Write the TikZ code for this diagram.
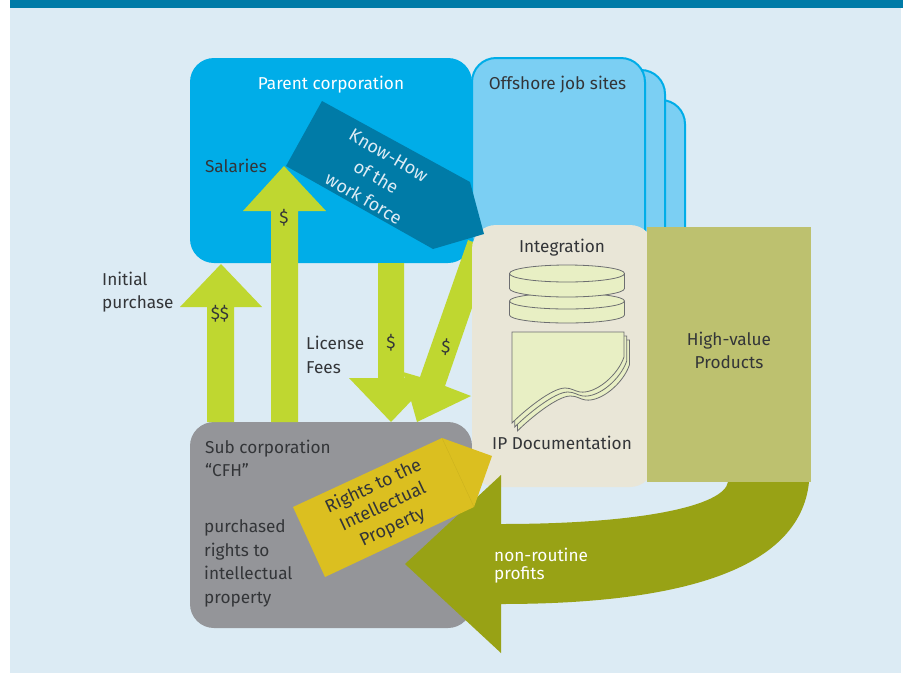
\documentclass[tikz,border=0pt]{standalone}
\usepackage{fontspec}
\setmainfont{Fira Sans}
\usetikzlibrary{positioning}
\definecolor{barBlue}{HTML}{007BA7}
\definecolor{paleBlue}{HTML}{DCEBF4}
\definecolor{parentBlue}{HTML}{00ADE8}
\definecolor{siteBlue}{HTML}{7BCFF3}
\definecolor{limeArrow}{HTML}{BFD730}
\definecolor{creamBox}{HTML}{E9E6D7}
\definecolor{oliveBox}{HTML}{BDC16F}
\definecolor{oliveArrow}{HTML}{98A215}
\definecolor{greyBox}{HTML}{949599}
\definecolor{goldArrow}{HTML}{DBBF20}
\definecolor{paleGreen}{HTML}{E8EFC4}
\definecolor{inkLine}{HTML}{6D6E71}
\definecolor{inkText}{HTML}{333538}

\begin{document}
\begin{tikzpicture}[
    x=1pt,y=-1pt,
    box/.style={%
      rectangle,
      rounded corners=24pt,
      inner sep=0pt,
    },
    lbl/.style={%
      inner sep=0pt,
      align=left,
      text=inkText,
      font=\fontsize{17.2}{23.5}\selectfont,
    },
    lblWhite/.style={%
      lbl,
      text=white,
    },
    paper/.style={%
      draw=inkLine,
      fill=paleGreen,
      line width=0.8pt,
    },
  ]

    \useasboundingbox (0,0) rectangle (903,673);
    \fill [paleBlue] (10,8) rectangle (901,673);
    \fill [barBlue] (10,0) rectangle (903,8);

    \node [box,fill=parentBlue,minimum width=282pt,minimum height=205pt] (A) at (331,160.5) {};
    \node [box,fill=siteBlue,draw=parentBlue,line width=2pt,minimum width=90pt,minimum height=170pt] (S3) at (640,185) {};
    \node [box,fill=siteBlue,draw=parentBlue,line width=2pt,minimum width=120pt,minimum height=190pt] (S2) at (605,165) {};
    \node [box,fill=siteBlue,draw=parentBlue,line width=2pt,minimum width=173pt,minimum height=200pt] (S1) at (558.5,158) {};
    \node [box,fill=greyBox,minimum width=282pt,minimum height=206pt] (B) at (331,525) {};

    % money arrows
    \fill [limeArrow] (207,422) -- (207,307) -- (180,307) -- (221,264) -- (262,307) -- (234,307) -- (234,422) -- cycle;
    \fill [limeArrow] (271,422) -- (271,211) -- (243,211) -- (284,166) -- (326,211) -- (298,211) -- (298,422) -- cycle;
    \fill [limeArrow] (378,263) -- (378,378) -- (349,378) -- (391,422) -- (433,378) -- (404,378) -- (404,263) -- cycle;
    \fill [limeArrow] (468,240) -- (420,377) -- (403,372) -- (417,422) -- (471,396) -- (445,386) -- (492,250) -- cycle;

    \node [box,fill=creamBox,minimum width=182pt,minimum height=262pt] (C) at (563,356) {};
    \node [fill=oliveBox,inner sep=0pt,minimum width=164pt,minimum height=255pt] (D) at (729,354.5) {};

    % disks
    \path [paper] (509.5,301) -- (509.5,315) arc [start angle=180,end angle=0,x radius=57.5,y radius=8] -- (624.5,301) arc [start angle=0,end angle=-180,x radius=57.5,y radius=8] -- cycle;
    \path [draw=inkLine,line width=0.8pt] (509.5,301) arc [start angle=180,end angle=0,x radius=57.5,y radius=8];
    \path [paper] (509.5,273.5) -- (509.5,288.5) arc [start angle=180,end angle=0,x radius=57.5,y radius=8.5] -- (624.5,273.5) arc [start angle=0,end angle=-180,x radius=57.5,y radius=8.5] -- cycle;
    \path [draw=inkLine,line width=0.8pt] (509.5,273.5) arc [start angle=180,end angle=0,x radius=57.5,y radius=8.5];

    % document pages
    \foreach \d in {2,1,0} {
      \path [paper,shift={(2.7*\d,4*\d)}] (512,332) -- (624,332) -- (624,357)
        .. controls (618,375) and (596,394) .. (580,392)
        .. controls (574,391) and (572,388) .. (565,388)
        .. controls (552,388) and (525,410) .. (512,423) -- cycle;
    }

    % profits
    \fill [oliveArrow] (728,482) .. controls (724,506) and (640,524) .. (501,524)
      -- (501,475) -- (405,564) -- (501,653) -- (501,604)
      .. controls (680,604) and (800,570) .. (809,482) -- cycle;

    % know-how and rights
    \fill [barBlue] (322,101) -- (470,182) -- (484,234) -- (433,249) -- (286,166) -- cycle;
    \fill [goldArrow] (442,438) -- (492,456) -- (474,507) -- (325,577) -- (293,507) -- cycle;
    \draw [black!8!goldArrow,line width=0.3pt] (442,438) -- (474,507);

    \path (A) ++(0,-76) node [lblWhite] (Aa) {Parent corporation};
    \path (A) ++(-95,5) node [lbl] (Ab) {Salaries};
    \path (S1) ++(-1,-73.5) node [lbl] (Sa) {Offshore job sites};
    \path (C) ++(-1,-108.5) node [lbl] (Ca) {Integration};
    \path (C) ++(-1,87) node [lbl] (Cb) {IP Documentation};
    \path (D) ++(0,-4) node [lbl,align=center] (Da) {High-value\\Products};
    \node [lbl,anchor=west] (Ba) at (205,458.5) {Sub corporation\\``CFH''};
    \node [lbl,anchor=west] (Bb) at (204,563.5) {purchased\\rights to\\intellectual\\property};
    \node [lbl,anchor=west] (Ia) at (102,292) {Initial\\purchase};
    \node [lbl,anchor=west] (La) at (306,355) {License\\Fees};
    \node [lblWhite,anchor=west,font=\fontsize{17.2}{18}\selectfont] (Pa) at (494,565.5) {non-routine\\profits};
    \node [lblWhite,align=center,rotate=-30,font=\fontsize{18}{25}\selectfont,text=paleBlue] (Ka) at (376,177) {Know-How\\of the\\work force};
    \node [lbl,align=center,rotate=25,font=\fontsize{18}{22.5}\selectfont] (Ra) at (383,507) {Rights to the\\Intellectual\\Property};

    \node [lbl] (M1) at (220,314) {\$\$};
    \node [lbl] (M2) at (284,218) {\$};
    \node [lbl] (M3) at (391,343) {\$};
    \node [lbl,rotate=-5] (M4) at (446,347) {\$};
\end{tikzpicture}
\end{document}
